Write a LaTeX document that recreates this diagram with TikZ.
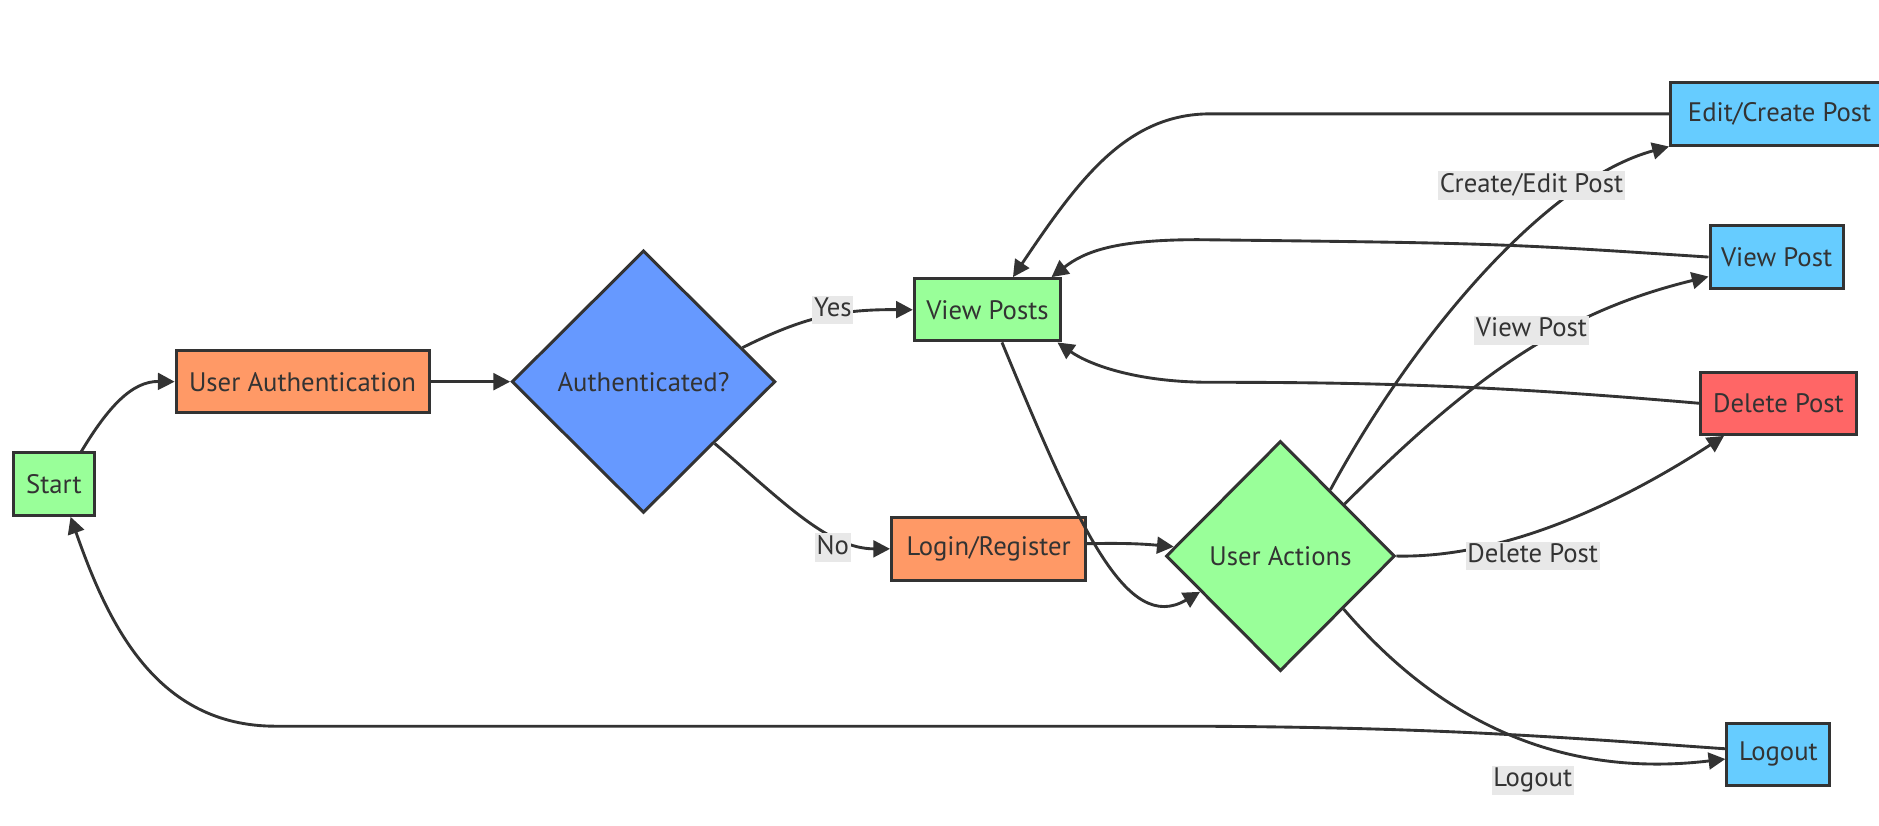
\documentclass[tikz,border=0pt]{standalone}
\usepackage{fontspec}
\setmainfont{PT Sans}
\usetikzlibrary{arrows.meta,shapes.geometric}
\definecolor{ink}{HTML}{333333}
\definecolor{cgreen}{HTML}{99FF99}
\definecolor{corange}{HTML}{FF9966}
\definecolor{cblue}{HTML}{6699FF}
\definecolor{ccyan}{HTML}{66CCFF}
\definecolor{cred}{HTML}{FF6666}
\definecolor{lblbg}{HTML}{E8E8E8}
\begin{document}
\begin{tikzpicture}[x=1pt,y=-1pt,
 every node/.style={font=\fontsize{22.3}{26}\selectfont, text=ink},
 box/.style={draw=ink, line width=2.5pt, rectangle, minimum height=52pt, inner sep=0pt},
 dia/.style={draw=ink, line width=2.5pt, diamond, inner sep=0pt},
 conn/.style={draw=ink, line width=2.4pt, -{Triangle[length=14pt,width=14pt]}},
 lbl/.style={fill=lblbg, inner sep=1.5pt, text height=16pt, text depth=5pt}
]
\useasboundingbox (0,0) rectangle (1568,689);
\node[box, fill=cgreen, minimum width=68pt] (start) at (45,404) {Start};
\node[box, fill=corange, minimum width=211pt] (ua) at (252.5,318.5) {User Authentication};
\node[dia, fill=cblue, minimum width=220pt, minimum height=219pt] (auth) at (537,318.5) {Authenticated?};
\node[box, fill=cgreen, minimum width=122pt] (vp) at (824,258.5) {View Posts};
\node[box, fill=corange, minimum width=162pt] (login) at (825,458) {Login/Register};
\node[dia, fill=cgreen, minimum width=191pt, minimum height=192pt] (uact) at (1068.5,464) {User Actions};
\node[box, fill=ccyan, minimum width=182pt] (edit) at (1485,95) {Edit/Create Post};
\node[box, fill=ccyan, minimum width=111pt] (vpost) at (1482.5,214.5) {View Post};
\node[box, fill=cred, minimum width=130pt] (del) at (1484,336.5) {Delete Post};
\node[box, fill=ccyan, minimum width=86pt] (logout) at (1484,629.5) {Logout};

\draw[conn] (start.50) .. controls (90,340) and (110,318) .. (ua.west);
\draw[conn] (ua.east) -- (auth.west);
\draw[conn] (auth.19) .. controls (670,265) and (700,258) .. (vp.west);
\draw[conn] (auth.-41) .. controls (650,415) and (690,458) .. (login.west);
\draw[conn] (login.3) .. controls (940,453) and (955,454) .. (uact.175);
\draw[conn] (vp.-66) .. controls (900,440) and (940,530) .. (uact.204);
\draw[conn] (uact.53) .. controls (1180,280) and (1290,150) .. (edit.south west);
\draw[conn] (uact.39) .. controls (1236,306) and (1312,258.5) .. (vpost.196);
\draw[conn] (uact.east) .. controls (1260,466) and (1360,415) .. (del.-149);
\draw[conn] (uact.-40) .. controls (1200,600) and (1300,650) .. (logout.-175);
\draw[conn] (edit.west) -- (1010,95) .. controls (940,95) and (900,150) .. (vp.52);
\draw[conn] (vpost.west) .. controls (1250,203) .. (1000,200) .. controls (930,200) and (905,210) .. (vp.27);
\draw[conn] (del.west) .. controls (1250,322) and (1150,319) .. (1010,319) .. controls (950,319) and (910,305) .. (vp.-25);
\draw[conn] (logout.174) .. controls (1300,615) and (1200,607) .. (1000,606) -- (230,606) .. controls (130,606) and (90,520) .. (start.-63);

\node[lbl] (lyes) at (695,258.6) {Yes};
\node[lbl] (lno) at (695,457) {No};
\node[lbl] (lce) at (1278,155) {Create/Edit Post};
\node[lbl] (lvp) at (1278,275.5) {View Post};
\node[lbl] (ldp) at (1279,464) {Delete Post};
\node[lbl] (llo) at (1279,651) {Logout};
\end{tikzpicture}
\end{document}
